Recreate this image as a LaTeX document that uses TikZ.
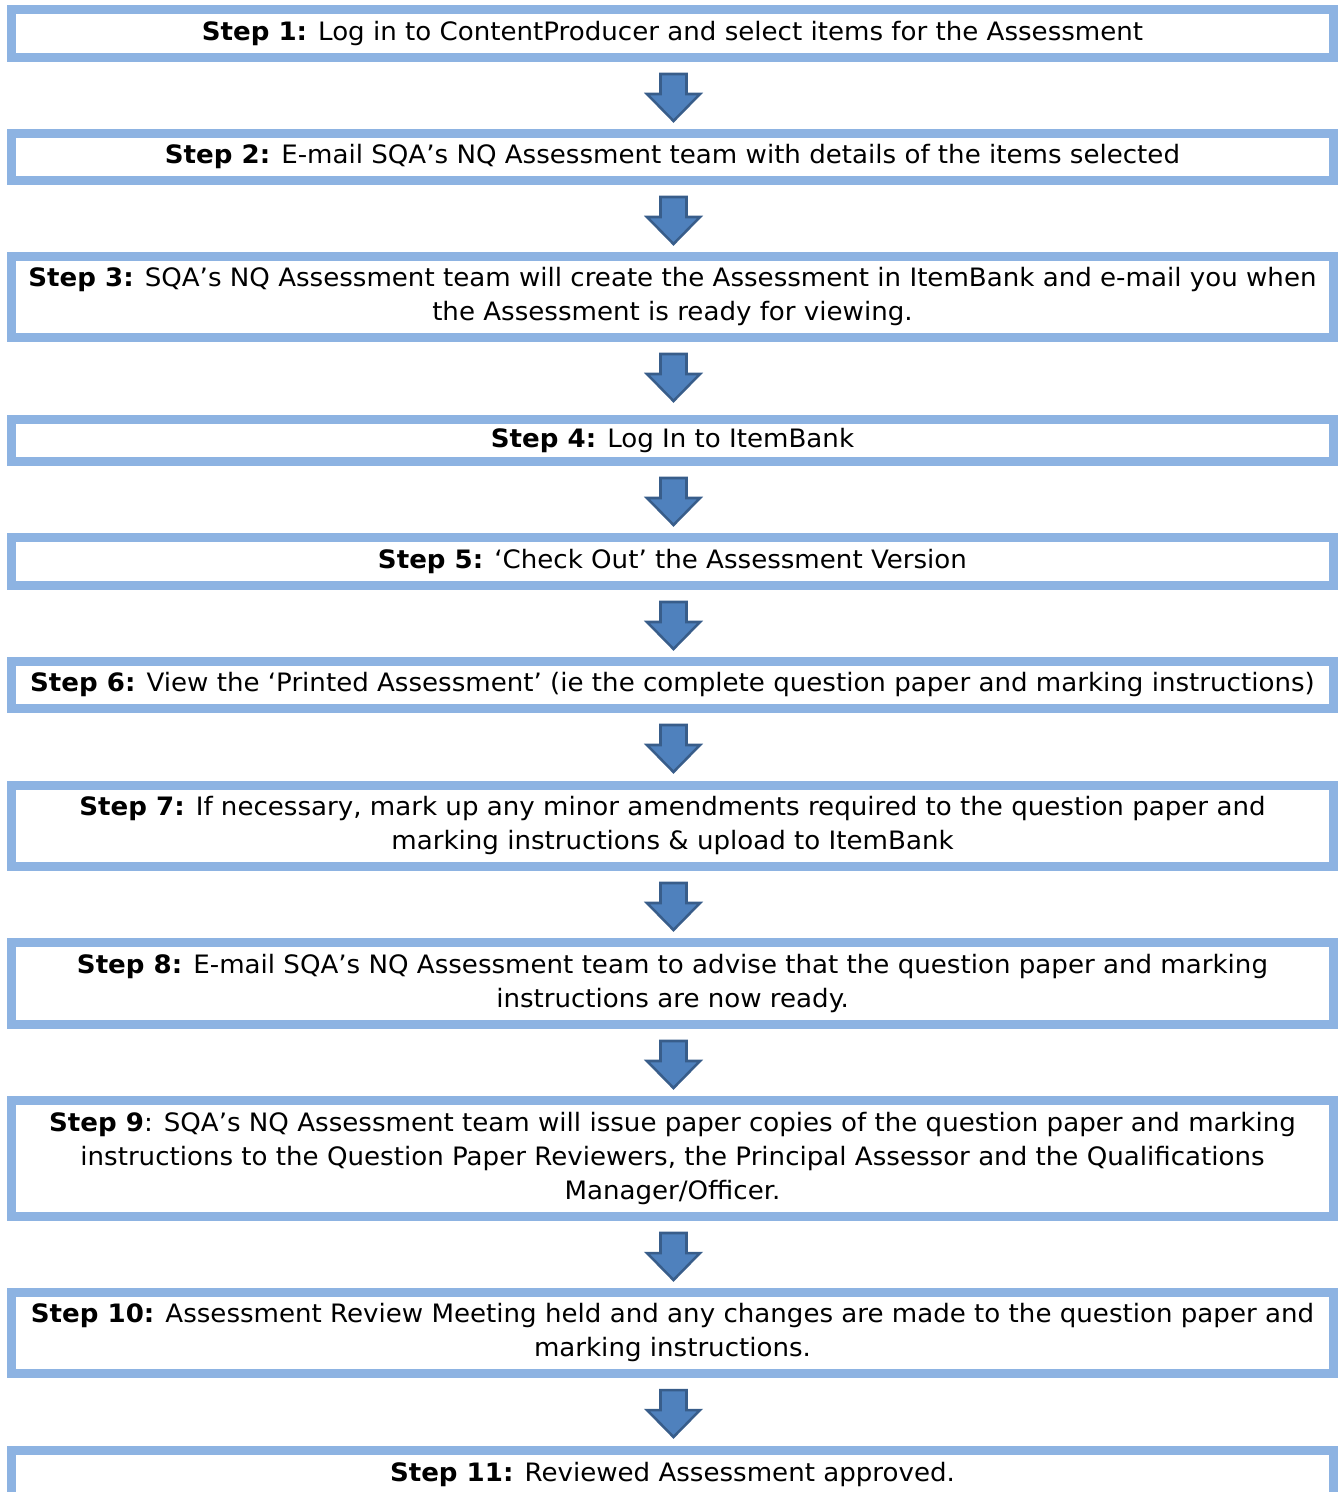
\documentclass[tikz,border=0pt]{standalone}
\usepackage{fontspec}
\setmainfont{DejaVu Sans}[FakeStretch=1.03]
\usetikzlibrary{calc}
\definecolor{boxblue}{HTML}{8DB3E2}
\definecolor{arrfill}{HTML}{4F81BD}
\definecolor{arrline}{HTML}{385D8A}
\begin{document}
\begin{tikzpicture}[x=0.75pt,y=-0.75pt,
  stepbox/.style={draw=boxblue, line width=6.75pt, minimum width=991.5pt,
    inner sep=0pt, align=center, text depth=4.6pt, font=\fontsize{19}{25.5}\selectfont},
  downarrow/.pic={\draw[fill=arrfill,draw=arrline,line width=1.9pt,line join=miter]
    (-13,0)--(13,0)--(13,20)--(26.5,20)--(0,47)--(-26.5,20)--(-13,20)--cycle;}]
\useasboundingbox (0,0) rectangle (1338,1492);

\node[stepbox, minimum height=36pt] (b1) at (672.5,33.5)
  {\textbf{Step 1:} Log in to ContentProducer and select items for the Assessment};
\node[stepbox, minimum height=35.25pt] (b2) at (672.5,157)
  {\textbf{Step 2:} E-mail SQA’s NQ Assessment team with details of the items selected};
\node[stepbox, minimum height=60.75pt] (b3) at (672.5,297)
  {\textbf{Step 3:} SQA’s NQ Assessment team will create the Assessment in ItemBank and e-mail you when\\the Assessment is ready for viewing.};
\node[stepbox, minimum height=31.5pt] (b4) at (672.5,440.5)
  {\textbf{Step 4:} Log In to ItemBank};
\node[stepbox, minimum height=36pt] (b5) at (672.5,561.5)
  {\textbf{Step 5:} ‘Check Out’ the Assessment Version};
\node[stepbox, minimum height=35.25pt] (b6) at (672.5,685)
  {\textbf{Step 6:} View the ‘Printed Assessment’ (ie the complete question paper and marking instructions)};
\node[stepbox, minimum height=60.75pt] (b7) at (672.5,826)
  {\textbf{Step 7:} If necessary, mark up any minor amendments required to the question paper and\\marking instructions \& upload to ItemBank};
\node[stepbox, minimum height=61.5pt] (b8) at (672.5,983.5)
  {\textbf{Step 8:} E-mail SQA’s NQ Assessment team to advise that the question paper and marking\\instructions are now ready.};
\node[stepbox, minimum height=87pt] (b9) at (672.5,1158.5)
  {\textbf{Step 9}: SQA’s NQ Assessment team will issue paper copies of the question paper and marking\\instructions to the Question Paper Reviewers, the Principal Assessor and the Qualifications\\Manager/Officer.};
\node[stepbox, minimum height=60.75pt] (b10) at (672.5,1333)
  {\textbf{Step 10:} Assessment Review Meeting held and any changes are made to the question paper and\\marking instructions.};
\node[stepbox, minimum height=36pt] (b11) at (672.5,1474.5)
  {\textbf{Step 11:} Reviewed Assessment approved.};

\foreach \a/\b in {b1/b2,b2/b3,b3/b4,b4/b5,b5/b6,b6/b7,b7/b8,b8/b9,b9/b10,b10/b11}
  \pic at ($(\a.south)+(1,12)$) {downarrow};
\end{tikzpicture}
\end{document}
